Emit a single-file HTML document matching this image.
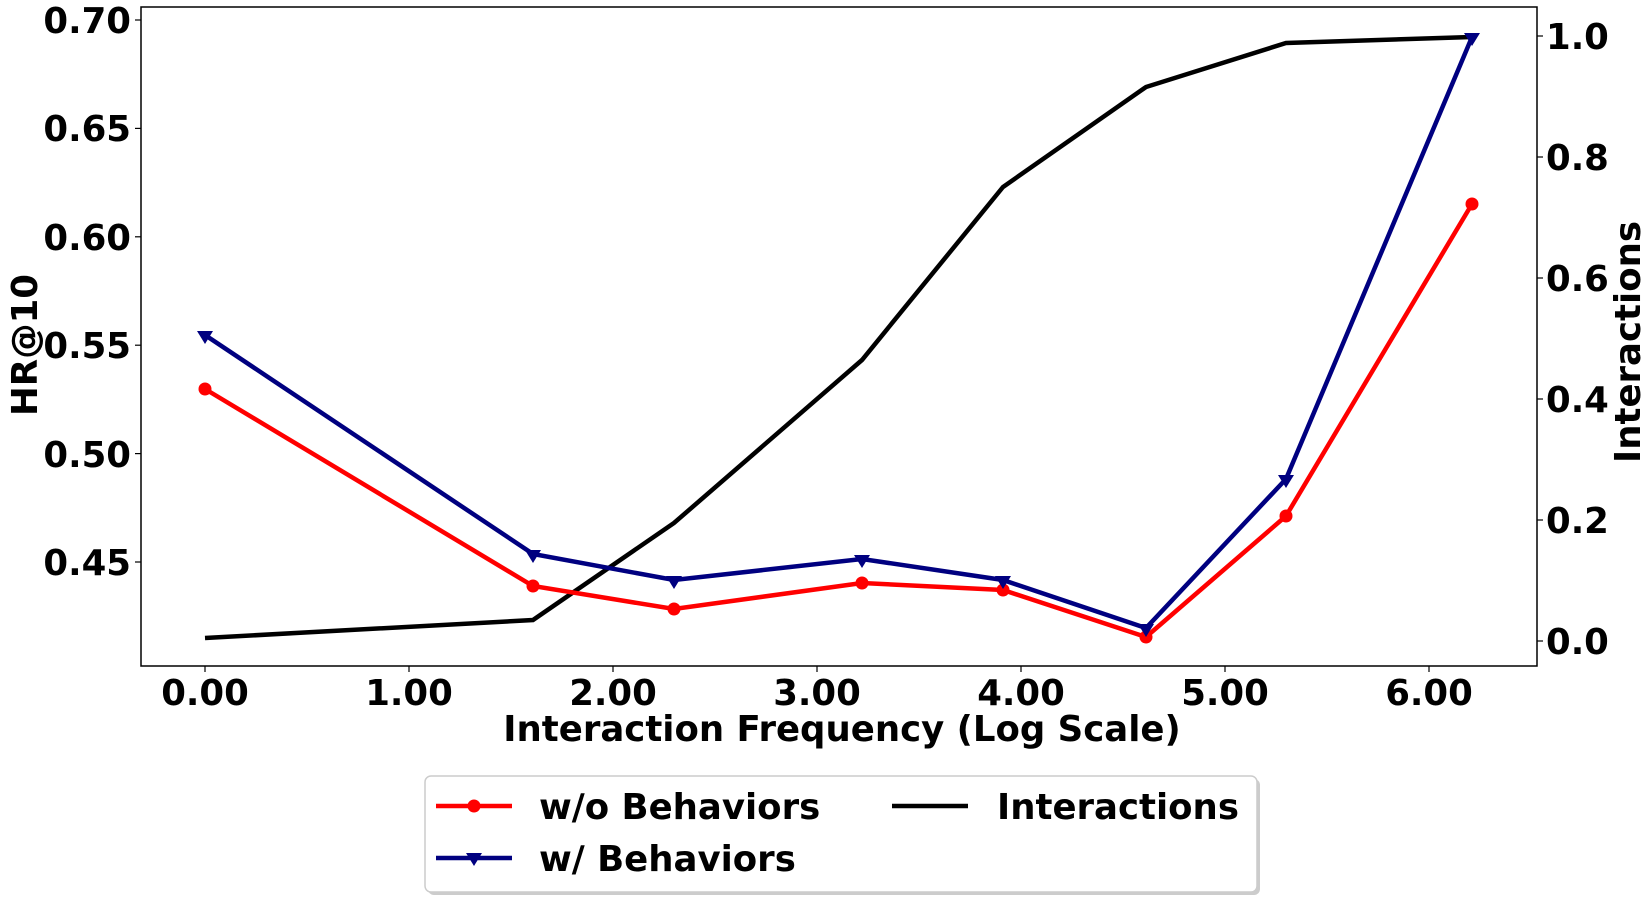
<!DOCTYPE html>
<html><head><meta charset="utf-8"><style>body{margin:0;background:#fff}svg{display:block}text{font-family:"DejaVu Sans","Liberation Sans",sans-serif;font-weight:bold;fill:#000}</style></head>
<body>
<svg width="1652" height="898" viewBox="0 0 1652 898" xmlns="http://www.w3.org/2000/svg">
<rect x="141" y="7" width="1396" height="659" fill="none" stroke="#000" stroke-width="1.5"/>
<g stroke="#000" stroke-width="1.2">
<line x1="205" y1="666" x2="205" y2="672"/><line x1="409" y1="666" x2="409" y2="672"/><line x1="613" y1="666" x2="613" y2="672"/><line x1="817" y1="666" x2="817" y2="672"/><line x1="1021" y1="666" x2="1021" y2="672"/><line x1="1225" y1="666" x2="1225" y2="672"/><line x1="1429" y1="666" x2="1429" y2="672"/>
<line x1="135" y1="20" x2="141" y2="20"/><line x1="135" y1="128.4" x2="141" y2="128.4"/><line x1="135" y1="236.8" x2="141" y2="236.8"/><line x1="135" y1="345.2" x2="141" y2="345.2"/><line x1="135" y1="453.6" x2="141" y2="453.6"/><line x1="135" y1="562" x2="141" y2="562"/>
<line x1="1537" y1="36" x2="1543" y2="36"/><line x1="1537" y1="157" x2="1543" y2="157"/><line x1="1537" y1="278" x2="1543" y2="278"/><line x1="1537" y1="399" x2="1543" y2="399"/><line x1="1537" y1="520" x2="1543" y2="520"/><line x1="1537" y1="641" x2="1543" y2="641"/>
</g>
<g font-size="35.5" text-anchor="middle">
<text x="205" y="705">0.00</text><text x="409" y="705">1.00</text><text x="613" y="705">2.00</text><text x="817" y="705">3.00</text><text x="1021" y="705">4.00</text><text x="1225" y="705">5.00</text><text x="1429" y="705">6.00</text>
</g>
<g font-size="35.5" text-anchor="end">
<text x="131" y="33">0.70</text><text x="131" y="141">0.65</text><text x="131" y="250">0.60</text><text x="131" y="358">0.55</text><text x="131" y="467">0.50</text><text x="131" y="575">0.45</text>
</g>
<g font-size="35.5">
<text x="1546" y="49">1.0</text><text x="1546" y="170">0.8</text><text x="1546" y="291">0.6</text><text x="1546" y="412">0.4</text><text x="1546" y="533">0.2</text><text x="1546" y="654">0.0</text>
</g>
<text x="842" y="741" font-size="35.5" text-anchor="middle">Interaction Frequency (Log Scale)</text>
<text transform="translate(37,345) rotate(-90)" font-size="35.5" text-anchor="middle">HR@10</text>
<text transform="translate(1640,342) rotate(-90)" font-size="35.5" text-anchor="middle">Interactions</text>
<polyline fill="none" stroke="#000" stroke-width="4.5" points="205,638 533,620 674,523 862,360 1003,187 1146,87 1286,43 1472,37"/>
<polyline fill="none" stroke="red" stroke-width="4.5" points="205,389 533,586 674,609 862,583 1003,590 1146,637 1286,516 1472,204"/>
<g fill="red"><circle cx="205" cy="389" r="6.5"/><circle cx="533" cy="586" r="6.5"/><circle cx="674" cy="609" r="6.5"/><circle cx="862" cy="583" r="6.5"/><circle cx="1003" cy="590" r="6.5"/><circle cx="1146" cy="637" r="6.5"/><circle cx="1286" cy="516" r="6.5"/><circle cx="1472" cy="204" r="6.5"/></g>
<polyline fill="none" stroke="#000080" stroke-width="4.5" points="205,335 533,554 674,580 862,559 1003,580 1146,628 1286,479 1472,37"/>
<g fill="#000080">
<path d="M197,331h16l-8,13z"/><path d="M525,550h16l-8,13z"/><path d="M666,576h16l-8,13z"/><path d="M854,555h16l-8,13z"/><path d="M995,576h16l-8,13z"/><path d="M1138,624h16l-8,13z"/><path d="M1278,475h16l-8,13z"/><path d="M1464,33h16l-8,13z"/>
</g>
<rect x="428" y="779" width="832" height="116" rx="6" fill="#999" opacity="0.5"/>
<rect x="425" y="776" width="832" height="116" rx="6" fill="#fff" stroke="#ccc" stroke-width="1.5"/>
<line x1="436" y1="806" x2="512" y2="806" stroke="red" stroke-width="4.5"/><circle cx="474" cy="806" r="6.5" fill="red"/>
<line x1="436" y1="858" x2="512" y2="858" stroke="#000080" stroke-width="4.5"/><path d="M466,853h16l-8,13z" fill="#000080"/>
<line x1="892" y1="806" x2="968" y2="806" stroke="#000" stroke-width="4.5"/>
<g font-size="35.5"><text x="539" y="819">w/o Behaviors</text><text x="539" y="871">w/ Behaviors</text><text x="997" y="819">Interactions</text></g>
</svg>
</body></html>
